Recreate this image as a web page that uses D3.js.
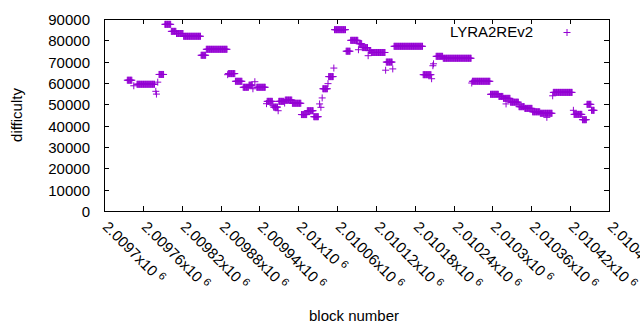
<!DOCTYPE html>
<html lang="en">
<head>
  <meta charset="UTF-8">
  <title>LYRA2REv2 difficulty</title>
  <style>
    body { margin: 0; background: #fff; }
    svg { display: block; font-family: "Liberation Sans", Arial, sans-serif; }
    .lbl { font-size: 15px; fill: #000; }
  </style>
  <script src="https://d3js.org/d3.v7.min.js"></script>
</head>
<body>
  <svg width="640" height="330"></svg>
  <script>
    // runs of blocks sharing the same difficulty (first block, last block, difficulty)
    const runStart = [2009736, 2009746, 2009751, 2009780, 2009781, 2009783, 2009785, 2009794, 2009804, 2009812,
      2009823, 2009850, 2009858, 2009891, 2009892, 2009903, 2009915, 2009924, 2009930, 2009933,
      2009936, 2009951, 2009952, 2009961, 2009962, 2009969, 2009970, 2009979, 2009980, 2009991,
      2010005, 2010014, 2010024, 2010033, 2010035, 2010037, 2010038, 2010046, 2010047, 2010055,
      2010056, 2010074, 2010081, 2010093, 2010094, 2010099, 2010108, 2010109, 2010113, 2010135,
      2010136, 2010146, 2010148, 2010193, 2010206, 2010208, 2010209, 2010213, 2010224, 2010268,
      2010269, 2010297, 2010310, 2010317, 2010321, 2010328, 2010341, 2010350, 2010362, 2010374,
      2010384, 2010393, 2010394, 2010425, 2010426, 2010439, 2010446, 2010453];
    const runEnd = [2009743, 2009746, 2009778, 2009780, 2009781, 2009783, 2009792, 2009803, 2009811, 2009822,
      2009849, 2009857, 2009890, 2009891, 2009902, 2009913, 2009923, 2009929, 2009930, 2009933,
      2009949, 2009951, 2009960, 2009961, 2009968, 2009969, 2009978, 2009979, 2009990, 2010004,
      2010013, 2010023, 2010031, 2010033, 2010035, 2010037, 2010045, 2010046, 2010054, 2010055,
      2010073, 2010080, 2010092, 2010093, 2010098, 2010107, 2010108, 2010112, 2010134, 2010135,
      2010145, 2010146, 2010192, 2010205, 2010206, 2010208, 2010209, 2010223, 2010267, 2010268,
      2010296, 2010309, 2010316, 2010327, 2010321, 2010340, 2010349, 2010361, 2010373, 2010392,
      2010384, 2010393, 2010423, 2010425, 2010438, 2010445, 2010452, 2010457];
    const runDiff = [61300, 58700, 59400, 56100, 54800, 60400, 64000, 87500, 84200, 83200,
      81900, 73000, 75800, 63900, 64400, 60800, 58000, 59000, 57300, 60600,
      58000, 50300, 51400, 49400, 48700, 47000, 51400, 50600, 52000, 50500,
      45200, 47000, 44200, 50200, 48600, 53000, 57300, 59700, 63000, 67000,
      85000, 74900, 80000, 75600, 78400, 76600, 72800, 75200, 74300, 66000,
      69800, 66600, 77200, 63900, 62000, 68100, 69000, 72500, 71600, 60000,
      60800, 54700, 53700, 52800, 50200, 51000, 48900, 48100, 46500, 45800,
      43900, 54000, 55600, 47200, 45300, 42800, 50000, 47200];

    const xTicks = d3.range(2009700, 2010481, 60);
    const yTicks = d3.range(0, 90001, 10000);
    const seriesName = "LYRA2REv2";
    const color = "#9400d3";

    const svg = d3.select("svg");
    const m = { left: 104, right: 609, top: 19, bottom: 211 };

    const x = d3.scaleLinear().domain([2009700, 2010480]).range([m.left, m.right]);
    const y = d3.scaleLinear().domain([0, 90000]).range([m.bottom, m.top]);

    const points = [];
    runStart.forEach((s, i) => {
      d3.range(s, runEnd[i] + 1).forEach(b => points.push({ block: b, diff: runDiff[i] }));
    });

    const tick = 5;
    const g = svg.append("g");

    // ticks (mirrored on top / right like gnuplot)
    yTicks.forEach(v => {
      const yy = Math.round(y(v)) + 0.5;
      g.append("line").attr("x1", m.left).attr("x2", m.left + tick).attr("y1", yy).attr("y2", yy).attr("stroke", "#000");
      g.append("line").attr("x1", m.right - tick).attr("x2", m.right).attr("y1", yy).attr("y2", yy).attr("stroke", "#000");
      g.append("text").attr("class", "lbl").attr("x", 90).attr("y", yy).attr("dy", "0.35em")
        .attr("text-anchor", "end").text(v);
    });

    xTicks.forEach(v => {
      const xx = Math.round(x(v)) + 0.5;
      g.append("line").attr("x1", xx).attr("x2", xx).attr("y1", m.bottom).attr("y2", m.bottom - tick).attr("stroke", "#000");
      g.append("line").attr("x1", xx).attr("x2", xx).attr("y1", m.top).attr("y2", m.top + tick).attr("stroke", "#000");
      const t = g.append("text").attr("class", "lbl")
        .attr("transform", `translate(${xx + 1},${m.bottom + 13}) rotate(45)`)
        .attr("dy", "0.35em");
      t.append("tspan").text(String(+(v / 1e6).toPrecision(6)) + "x10");
      t.append("tspan").attr("dx", 4).attr("dy", -5).style("font-size", "11px").text("6");
    });

    // frame
    g.append("rect").attr("x", m.left + 0.5).attr("y", m.top + 0.5)
      .attr("width", m.right - m.left).attr("height", m.bottom - m.top)
      .attr("fill", "none").attr("stroke", "#000");

    const plus = (px, py, h) => `M${px - h},${py}h${2 * h}M${px},${py - h}v${2 * h}`;

    svg.append("path")
      .attr("d", points.map(d => plus(x(d.block), y(d.diff), 3.5)).join(""))
      .attr("stroke", color).attr("stroke-width", 1).attr("fill", "none");

    // legend
    svg.append("text").attr("class", "lbl").attr("x", 533).attr("y", 32).attr("dy", "0.35em")
      .attr("text-anchor", "end").text(seriesName);
    svg.append("path").attr("d", plus(567, 32.5, 3.5)).attr("stroke", color).attr("fill", "none");

    // axis titles
    svg.append("text").attr("class", "lbl").attr("transform", "translate(22,115) rotate(-90)")
      .attr("text-anchor", "middle").text("difficulty");
    svg.append("text").attr("class", "lbl").attr("x", 354).attr("y", 321)
      .attr("text-anchor", "middle").text("block number");
  </script>
</body>
</html>
